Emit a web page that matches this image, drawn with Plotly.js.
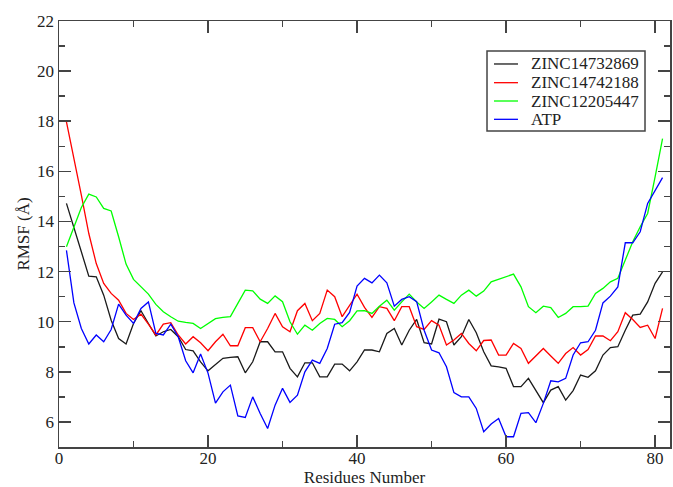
<!DOCTYPE html>
<html>
<head>
<meta charset="utf-8">
<script src="https://cdn.plot.ly/plotly-3.0.1.min.js"></script>
<style>html,body{margin:0;padding:0;background:#fff;}#chart{width:673px;height:487px;}</style>
</head>
<body>
<div id="chart"></div>
<script>
const residues = Array.from({length: 81}, (_, k) => k + 1);
const seriesNames = ["ZINC14732869", "ZINC14742188", "ZINC12205447", "ATP"];
const seriesColors = ["#1a1a1a", "#ff0000", "#00ff00", "#0000ff"];

const zinc14732869 = [14.72,13.79,12.79,11.82,11.79,11.06,10.06,9.33,9.11,9.93,
  10.44,9.93,9.43,9.6,9.69,9.4,8.89,8.84,8.4,8.04,
  8.3,8.54,8.58,8.6,7.96,8.4,9.2,9.2,8.8,8.8,
  8.14,7.8,8.36,8.36,7.8,7.8,8.31,8.31,8.04,8.4,
  8.87,8.87,8.8,9.53,9.73,9.07,9.66,10.09,9.16,9.11,
  10.1,10.0,9.07,9.4,10.09,9.56,8.8,8.24,8.2,8.14,
  7.41,7.41,7.74,7.25,6.77,7.27,7.41,6.87,7.25,7.87,
  7.78,8.04,8.67,8.97,9.0,9.66,10.26,10.3,10.79,11.53,11.99];

const zinc14742188 = [17.97,16.58,15.05,13.52,12.32,11.53,11.13,10.86,10.33,10.09,
  10.3,9.9,9.47,9.9,9.96,9.47,9.11,9.4,9.16,8.84,
  9.2,9.5,9.04,9.04,9.76,9.76,9.2,9.73,10.33,9.8,
  9.6,10.44,10.73,10.04,10.33,11.26,11.0,10.2,10.65,11.1,
  10.57,10.17,10.6,10.53,10.04,10.6,10.6,9.8,9.69,10.04,
  9.86,9.07,9.27,9.53,9.13,8.84,9.25,9.27,8.67,8.67,
  9.13,8.93,8.34,8.63,8.93,8.63,8.34,8.73,8.97,8.67,
  8.89,9.43,9.43,9.24,9.6,10.36,10.09,9.77,9.86,9.33,10.53];

const zinc12205447 = [12.99,13.79,14.56,15.09,14.98,14.52,14.42,13.39,12.3,11.69,
  11.39,11.1,10.69,10.4,10.2,10.02,9.97,9.93,9.73,9.92,
  10.12,10.17,10.2,10.73,11.26,11.23,10.9,10.73,11.03,10.8,
  10.0,9.5,9.86,9.66,9.93,10.13,10.09,9.8,10.04,10.43,
  10.44,10.33,10.62,10.86,10.46,10.79,11.1,10.79,10.53,10.79,
  11.06,10.89,10.73,11.06,11.26,11.02,11.22,11.59,11.69,11.79,
  11.9,11.39,10.6,10.36,10.62,10.56,10.17,10.33,10.6,10.6,
  10.62,11.13,11.33,11.59,11.73,12.46,13.19,13.79,14.32,15.78,17.31];

const atp = [12.85,10.75,9.73,9.11,9.47,9.2,9.69,10.7,10.26,9.93,
  10.53,10.79,9.53,9.47,9.9,9.4,8.44,7.96,8.71,7.95,
  6.75,7.2,7.47,6.24,6.18,7.0,6.34,5.74,6.67,7.34,
  6.78,7.07,8.0,8.47,8.34,8.93,9.9,9.96,10.37,11.42,
  11.73,11.55,11.86,11.55,10.62,10.89,11.0,10.8,9.66,8.87,
  8.76,8.2,7.17,7.0,7.0,6.54,5.61,5.92,6.14,5.41,
  5.41,6.34,6.37,5.97,6.74,7.64,7.6,7.74,8.67,9.16,
  9.2,9.66,10.75,11.02,11.39,13.15,13.15,13.59,14.72,15.25,15.75];

const allSeries = [zinc14732869, zinc14742188, zinc12205447, atp];
const FONT = "Liberation Serif";

const traces = allSeries.map((vals, k) => ({
  x: residues,
  y: vals,
  type: "scatter",
  mode: "lines",
  name: seriesNames[k],
  showlegend: false,
  line: {color: seriesColors[k], width: 1.3}
}));

// legend drawn as a boxed key in paper coordinates
const legendBox = {x0: 0.7005, x1: 0.9591, y0: 0.7418, y1: 0.9296};
const legendRowsY = [0.8991, 0.8552, 0.8122, 0.7692];
const shapes = [{
  type: "rect", xref: "paper", yref: "paper",
  x0: legendBox.x0, x1: legendBox.x1, y0: legendBox.y0, y1: legendBox.y1,
  line: {color: "#444", width: 1.5}, fillcolor: "#ffffff", layer: "above"
}];
const annotations = [];
seriesNames.forEach((nm, k) => {
  shapes.push({
    type: "line", xref: "paper", yref: "paper",
    x0: 0.7119, x1: 0.7512, y0: legendRowsY[k], y1: legendRowsY[k],
    line: {color: seriesColors[k], width: 1.3}, layer: "above"
  });
  annotations.push({
    xref: "paper", yref: "paper", x: 0.7692, y: legendRowsY[k],
    xanchor: "left", yanchor: "middle", showarrow: false, text: nm,
    font: {family: FONT, size: 17, color: "#222"}
  });
});

const axisCommon = {
  showgrid: false,
  zeroline: false,
  showline: true,
  linecolor: "#444",
  linewidth: 1.5,
  mirror: "ticks",
  ticks: "inside",
  ticklen: 12,
  tickwidth: 1.5,
  tickcolor: "#444",
  tickfont: {family: FONT, size: 17, color: "#222"}
};

const layout = {
  width: 673,
  height: 487,
  margin: {l: 59, r: 3, t: 21, b: 40},
  paper_bgcolor: "#ffffff",
  plot_bgcolor: "#ffffff",
  showlegend: false,
  font: {family: FONT},
  xaxis: Object.assign({}, axisCommon, {
    range: [0, 82],
    tickmode: "linear",
    tick0: 0,
    dtick: 20,
    ticklabelstandoff: -5,
    minor: {ticks: "inside", dtick: 10, ticklen: 6, tickwidth: 1.5, tickcolor: "#444"},
    title: {text: "Residues Number", standoff: 9, font: {family: FONT, size: 17, color: "#222"}}
  }),
  yaxis: Object.assign({}, axisCommon, {
    range: [5, 22],
    tickmode: "linear",
    tick0: 0,
    dtick: 2,
    minor: {ticks: "inside", dtick: 1, ticklen: 6, tickwidth: 1.5, tickcolor: "#444"},
    title: {text: "RMSF (Å)", standoff: 3, font: {family: FONT, size: 17, color: "#222"}}
  }),
  shapes: shapes,
  annotations: annotations
};

Plotly.newPlot("chart", traces, layout, {displayModeBar: false, staticPlot: true});
</script>
</body>
</html>
